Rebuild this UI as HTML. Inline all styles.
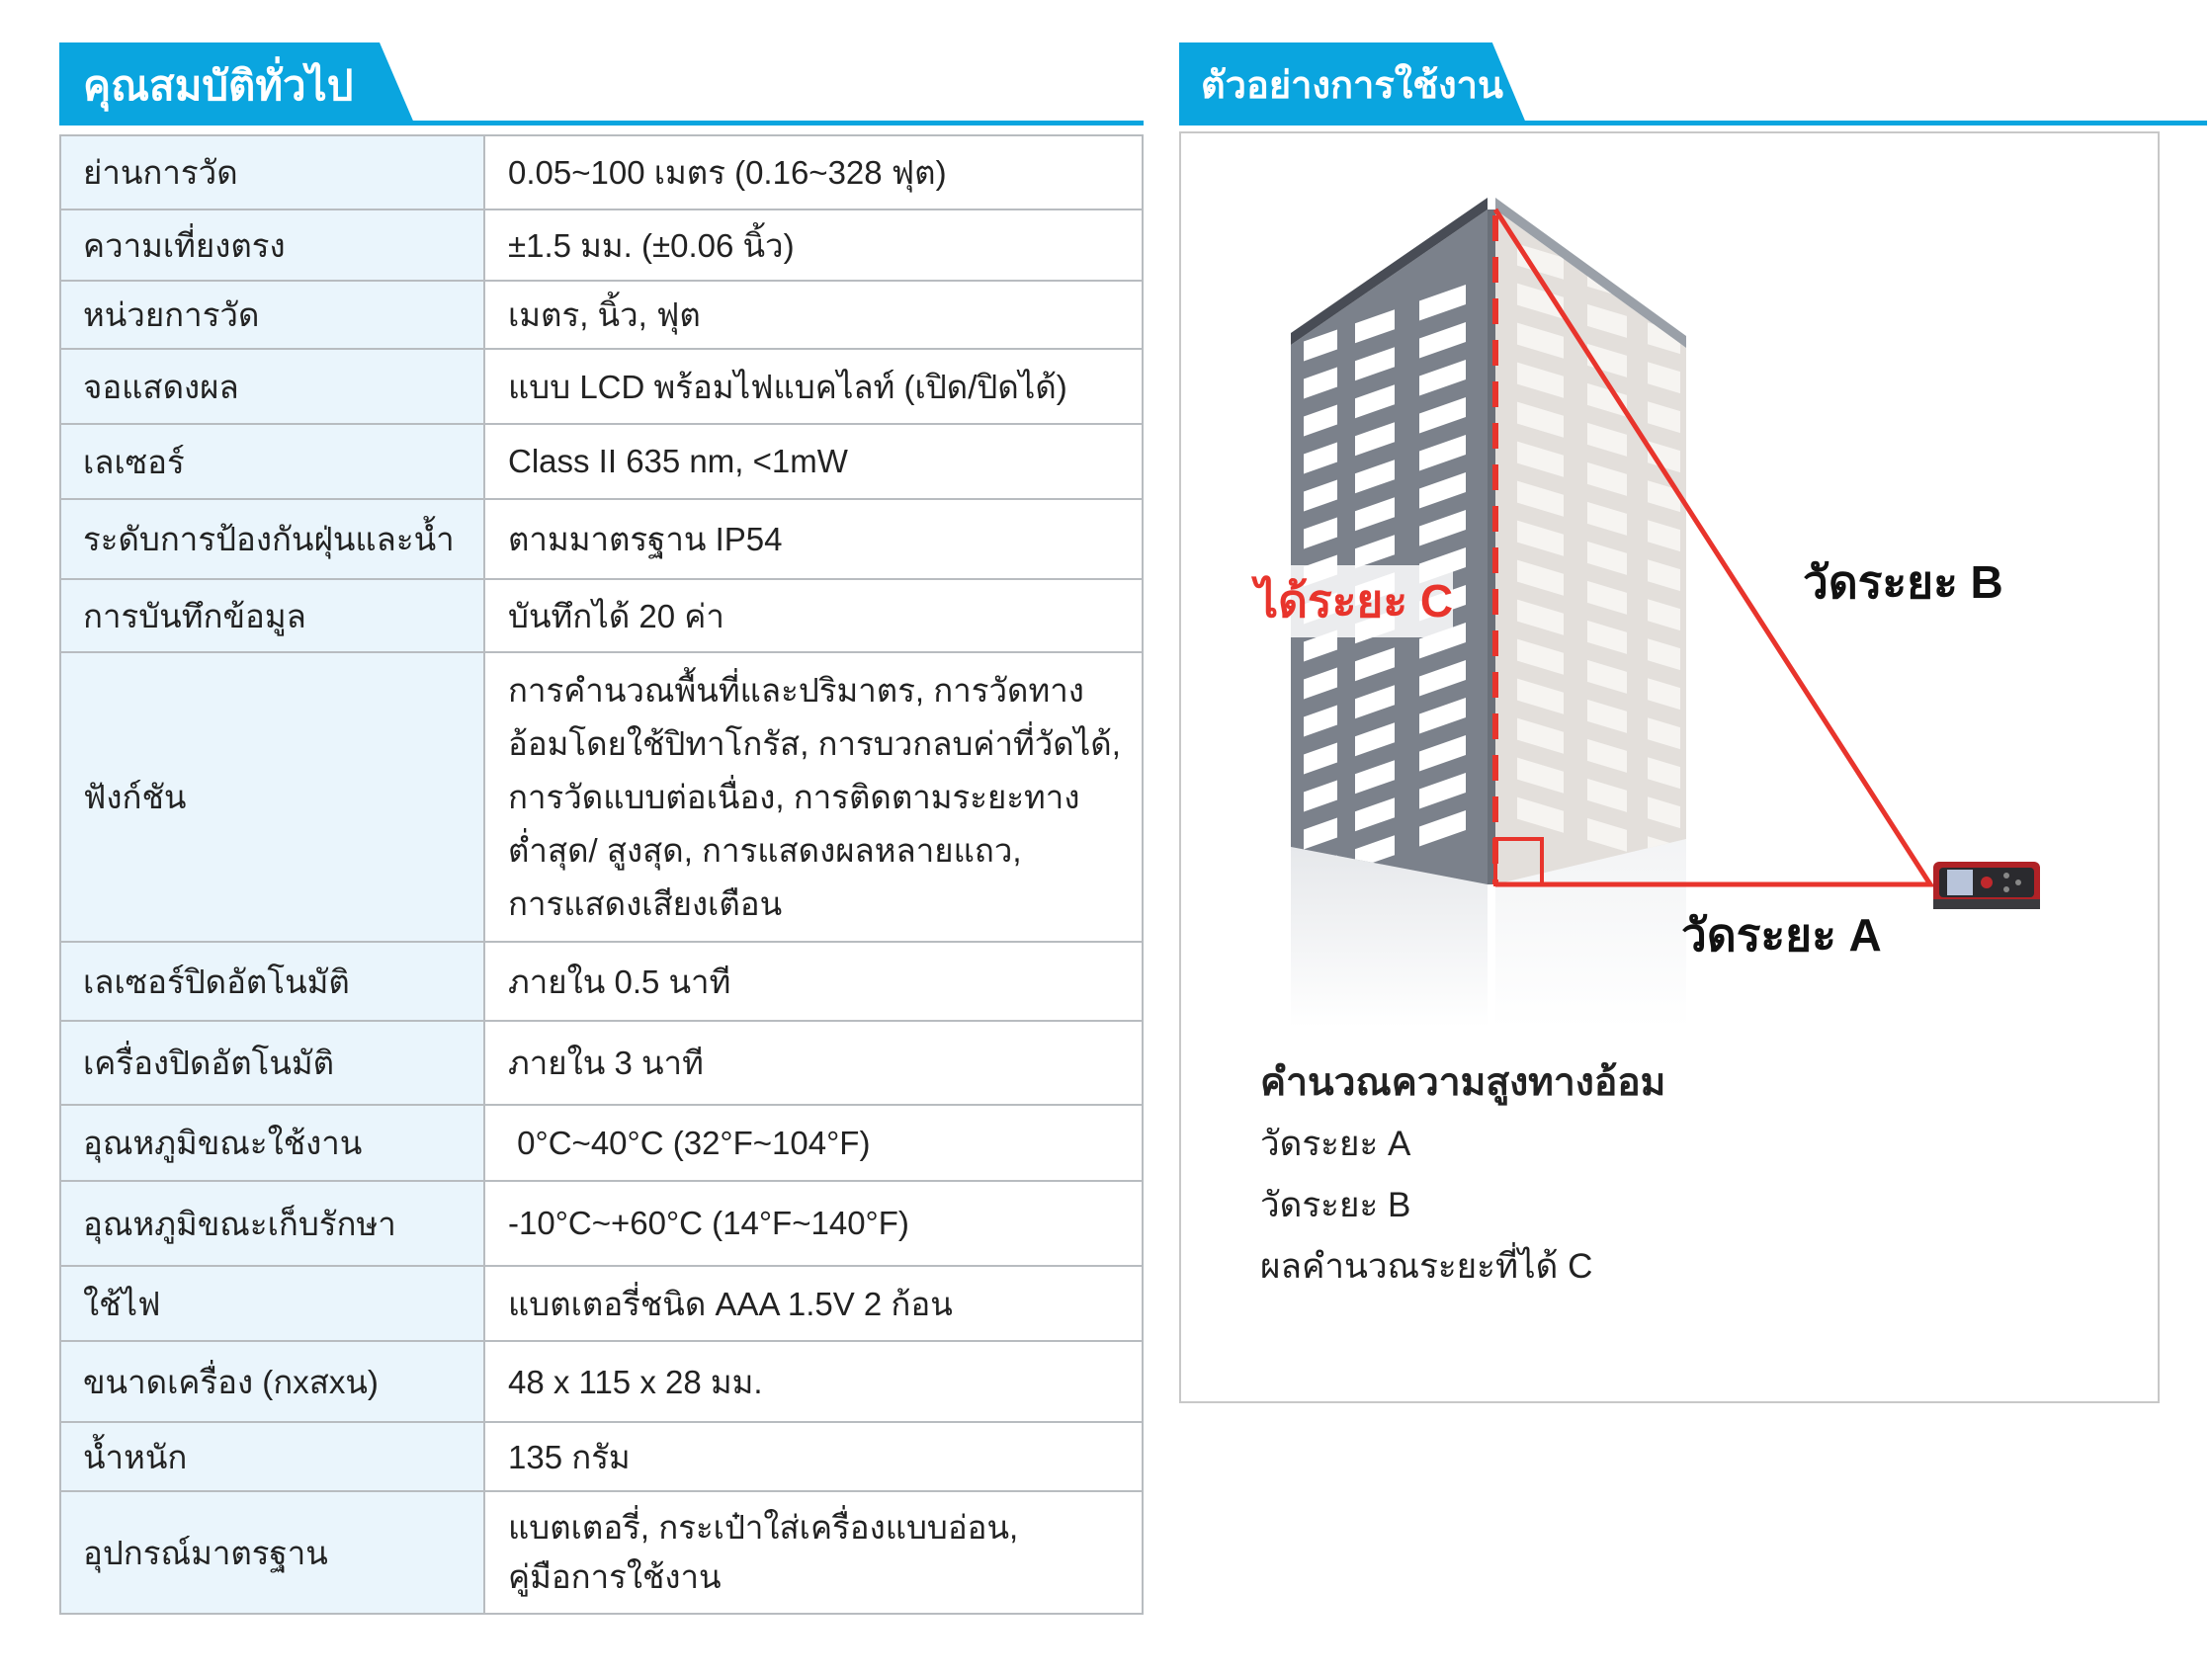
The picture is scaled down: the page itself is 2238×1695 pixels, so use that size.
<!DOCTYPE html>
<html><head><meta charset="utf-8"><style>
body{margin:0;width:2238px;height:1695px;background:#fff;position:relative;overflow:hidden;font-family:"Liberation Sans","DejaVu Sans",sans-serif;color:#222}
.tab{position:absolute;top:43px;height:84px;background:#0aa5df;color:#fff;font-weight:bold;font-size:42px;line-height:88px;padding-left:24px;box-sizing:border-box;white-space:nowrap}
.line{position:absolute;top:122px;height:5px;background:#0aa5df}
table{position:absolute;left:60px;top:136px;width:1097px;border-collapse:collapse;font-size:33px;table-layout:fixed}
td{border:2px solid #b8bcc0;padding:0 0 0 22px;vertical-align:middle}
td.k{background:#eaf5fc;width:405px}
td.v{padding-left:23px}
.box{position:absolute;left:1193px;top:133px;width:992px;height:1287px;border:2px solid #c8c8c8;box-sizing:border-box}
.t{position:absolute;font-size:35px;white-space:nowrap}
</style></head><body>
<div class="tab" style="left:60px;width:360px;clip-path:polygon(0 0,90% 0,100% 100%,0 100%)">คุณสมบัติทั่วไป</div>
<div class="line" style="left:60px;width:1097px"></div>
<div class="tab" style="left:1193px;width:352px;font-size:38px;padding-left:22px;clip-path:polygon(0 0,90% 0,100% 100%,0 100%)">ตัวอย่างการใช้งาน</div>
<div class="line" style="left:1193px;width:1040px"></div>
<table>
<tr style="height:75px"><td class="k">ย่านการวัด</td><td class="v">0.05~100 เมตร (0.16~328 ฟุต)</td></tr>
<tr style="height:72px"><td class="k">ความเที่ยงตรง</td><td class="v">±1.5 มม. (±0.06 นิ้ว)</td></tr>
<tr style="height:69px"><td class="k">หน่วยการวัด</td><td class="v">เมตร, นิ้ว, ฟุต</td></tr>
<tr style="height:76px"><td class="k">จอแสดงผล</td><td class="v">แบบ LCD พร้อมไฟแบคไลท์ (เปิด/ปิดได้)</td></tr>
<tr style="height:76px"><td class="k">เลเซอร์</td><td class="v">Class II 635 nm, &lt;1mW</td></tr>
<tr style="height:81px"><td class="k">ระดับการป้องกันฝุ่นและน้ำ</td><td class="v">ตามมาตรฐาน IP54</td></tr>
<tr style="height:74px"><td class="k">การบันทึกข้อมูล</td><td class="v">บันทึกได้ 20 ค่า</td></tr>
<tr style="height:293px"><td class="k">ฟังก์ชัน</td><td class="v" style="line-height:54px">การคำนวณพื้นที่และปริมาตร, การวัดทาง<br>อ้อมโดยใช้ปิทาโกรัส, การบวกลบค่าที่วัดได้,<br>การวัดแบบต่อเนื่อง, การติดตามระยะทาง<br>ต่ำสุด/ สูงสุด, การแสดงผลหลายแถว,<br>การแสดงเสียงเตือน</td></tr>
<tr style="height:80px"><td class="k">เลเซอร์ปิดอัตโนมัติ</td><td class="v">ภายใน 0.5 นาที</td></tr>
<tr style="height:85px"><td class="k">เครื่องปิดอัตโนมัติ</td><td class="v">ภายใน 3 นาที</td></tr>
<tr style="height:77px"><td class="k">อุณหภูมิขณะใช้งาน</td><td class="v">&nbsp;0°C~40°C (32°F~104°F)</td></tr>
<tr style="height:86px"><td class="k">อุณหภูมิขณะเก็บรักษา</td><td class="v">-10°C~+60°C (14°F~140°F)</td></tr>
<tr style="height:76px"><td class="k">ใช้ไฟ</td><td class="v">แบตเตอรี่ชนิด AAA 1.5V 2 ก้อน</td></tr>
<tr style="height:82px"><td class="k">ขนาดเครื่อง (กxสxน)</td><td class="v">48 x 115 x 28 มม.</td></tr>
<tr style="height:70px"><td class="k">น้ำหนัก</td><td class="v">135 กรัม</td></tr>
<tr style="height:124px"><td class="k">อุปกรณ์มาตรฐาน</td><td class="v" style="line-height:50px">แบตเตอรี่, กระเป๋าใส่เครื่องแบบอ่อน,<br>คู่มือการใช้งาน</td></tr>
</table>
<div class="box"></div>
<svg style="position:absolute;left:0;top:0" width="2238" height="1695">
<defs>
<linearGradient id="rf" x1="0" y1="0" x2="0" y2="1"><stop offset="0" stop-color="#e6e8eb"/><stop offset="1" stop-color="#fff"/></linearGradient>
<clipPath id="lc"><polygon points="1306,349 1505,212 1505,895 1306,857"/></clipPath>
<clipPath id="rc"><polygon points="1513,212 1706,352 1706,849 1513,895"/></clipPath>
</defs>
<polygon points="1306,857 1505,895 1505,1040 1306,1040" fill="url(#rf)"/>
<polygon points="1513,895 1706,849 1706,1040 1513,1040" fill="url(#rf)" opacity="0.5"/>
<polygon points="1306,349 1505,212 1505,895 1306,857" fill="#7b818b"/>
<polygon points="1306,337 1505,200 1505,212 1306,349" fill="#484c55"/>
<polygon points="1505,212 1513,212 1513,895 1505,895" fill="#6a7079"/>
<polygon points="1513,212 1706,352 1706,849 1513,895" fill="#e3dfdb"/>
<polygon points="1513,200 1706,340 1706,352 1513,212" fill="#9aa0a8"/>
<g clip-path="url(#lc)" fill="#fff">
<g transform="matrix(1,-0.35,0,1,1306,350)">
<rect x="13" y="0" width="34" height="20"/><rect x="65" y="0" width="40" height="20"/><rect x="130" y="0" width="47" height="20"/>
<rect x="13" y="38" width="34" height="20"/><rect x="65" y="38" width="40" height="20"/><rect x="130" y="38" width="47" height="20"/>
<rect x="13" y="76" width="34" height="20"/><rect x="65" y="76" width="40" height="20"/><rect x="130" y="76" width="47" height="20"/>
<rect x="13" y="114" width="34" height="20"/><rect x="65" y="114" width="40" height="20"/><rect x="130" y="114" width="47" height="20"/>
<rect x="13" y="152" width="34" height="20"/><rect x="65" y="152" width="40" height="20"/><rect x="130" y="152" width="47" height="20"/>
<rect x="13" y="190" width="34" height="20"/><rect x="65" y="190" width="40" height="20"/><rect x="130" y="190" width="47" height="20"/>
<rect x="13" y="228" width="34" height="20"/><rect x="65" y="228" width="40" height="20"/><rect x="130" y="228" width="47" height="20"/>
<rect x="13" y="266" width="34" height="20"/><rect x="65" y="266" width="40" height="20"/><rect x="130" y="266" width="47" height="20"/>
<rect x="13" y="304" width="34" height="20"/><rect x="65" y="304" width="40" height="20"/><rect x="130" y="304" width="47" height="20"/>
<rect x="13" y="342" width="34" height="20"/><rect x="65" y="342" width="40" height="20"/><rect x="130" y="342" width="47" height="20"/>
<rect x="13" y="380" width="34" height="20"/><rect x="65" y="380" width="40" height="20"/><rect x="130" y="380" width="47" height="20"/>
<rect x="13" y="418" width="34" height="20"/><rect x="65" y="418" width="40" height="20"/><rect x="130" y="418" width="47" height="20"/>
<rect x="13" y="456" width="34" height="20"/><rect x="65" y="456" width="40" height="20"/><rect x="130" y="456" width="47" height="20"/>
<rect x="13" y="494" width="34" height="20"/><rect x="65" y="494" width="40" height="20"/><rect x="130" y="494" width="47" height="20"/>
<rect x="13" y="532" width="34" height="20"/><rect x="65" y="532" width="40" height="20"/><rect x="130" y="532" width="47" height="20"/>
</g></g>
<g clip-path="url(#rc)" fill="#f6f4f1">
<g transform="matrix(1,0.3,0,1,1513,240)">
<rect x="22" y="0" width="47" height="22"/><rect x="93" y="0" width="40" height="22"/><rect x="154" y="0" width="33" height="22"/>
<rect x="22" y="40" width="47" height="22"/><rect x="93" y="40" width="40" height="22"/><rect x="154" y="40" width="33" height="22"/>
<rect x="22" y="80" width="47" height="22"/><rect x="93" y="80" width="40" height="22"/><rect x="154" y="80" width="33" height="22"/>
<rect x="22" y="120" width="47" height="22"/><rect x="93" y="120" width="40" height="22"/><rect x="154" y="120" width="33" height="22"/>
<rect x="22" y="160" width="47" height="22"/><rect x="93" y="160" width="40" height="22"/><rect x="154" y="160" width="33" height="22"/>
<rect x="22" y="200" width="47" height="22"/><rect x="93" y="200" width="40" height="22"/><rect x="154" y="200" width="33" height="22"/>
<rect x="22" y="240" width="47" height="22"/><rect x="93" y="240" width="40" height="22"/><rect x="154" y="240" width="33" height="22"/>
<rect x="22" y="280" width="47" height="22"/><rect x="93" y="280" width="40" height="22"/><rect x="154" y="280" width="33" height="22"/>
<rect x="22" y="320" width="47" height="22"/><rect x="93" y="320" width="40" height="22"/><rect x="154" y="320" width="33" height="22"/>
<rect x="22" y="360" width="47" height="22"/><rect x="93" y="360" width="40" height="22"/><rect x="154" y="360" width="33" height="22"/>
<rect x="22" y="400" width="47" height="22"/><rect x="93" y="400" width="40" height="22"/><rect x="154" y="400" width="33" height="22"/>
<rect x="22" y="440" width="47" height="22"/><rect x="93" y="440" width="40" height="22"/><rect x="154" y="440" width="33" height="22"/>
<rect x="22" y="480" width="47" height="22"/><rect x="93" y="480" width="40" height="22"/><rect x="154" y="480" width="33" height="22"/>
<rect x="22" y="520" width="47" height="22"/><rect x="93" y="520" width="40" height="22"/><rect x="154" y="520" width="33" height="22"/>
<rect x="22" y="560" width="47" height="22"/><rect x="93" y="560" width="40" height="22"/><rect x="154" y="560" width="33" height="22"/>
</g></g>
<line x1="1513" y1="218" x2="1513" y2="895" stroke="#e8342c" stroke-width="6" stroke-dasharray="26,16"/>
<polyline points="1513,212 1953,895 1513,895" fill="none" stroke="#e8342c" stroke-width="5"/>
<rect x="1513" y="849" width="47" height="46" fill="none" stroke="#e8342c" stroke-width="4"/>
<rect x="1956" y="872" width="108" height="48" rx="6" fill="#b02226"/>
<rect x="1962" y="878" width="96" height="30" rx="4" fill="#2a2a2e"/>
<rect x="1970" y="880" width="26" height="26" fill="#b8c4da"/>
<circle cx="2010" cy="893" r="6" fill="#c0282c"/>
<circle cx="2030" cy="886" r="3" fill="#888"/><circle cx="2042" cy="893" r="3" fill="#888"/><circle cx="2030" cy="900" r="3" fill="#888"/>
<rect x="1956" y="910" width="108" height="10" fill="#3a3a3e"/>
</svg>
<div class="t" style="left:1270px;top:572px;color:#e8342c;font-weight:bold;font-size:46px;background:rgba(255,255,255,0.85)">ได้ระยะ C</div>
<div class="t" style="left:1824px;top:553px;font-weight:bold;font-size:46px;color:#111">วัดระยะ B</div>
<div class="t" style="left:1701px;top:910px;font-weight:bold;font-size:46px;color:#111">วัดระยะ A</div>
<div class="t" style="left:1275px;top:1064px;font-weight:bold;font-size:39px;color:#222">คำนวณความสูงทางอ้อม</div>
<div class="t" style="left:1275px;top:1130px">วัดระยะ A</div>
<div class="t" style="left:1275px;top:1192px">วัดระยะ B</div>
<div class="t" style="left:1275px;top:1254px">ผลคำนวณระยะที่ได้ C</div>
</body></html>
